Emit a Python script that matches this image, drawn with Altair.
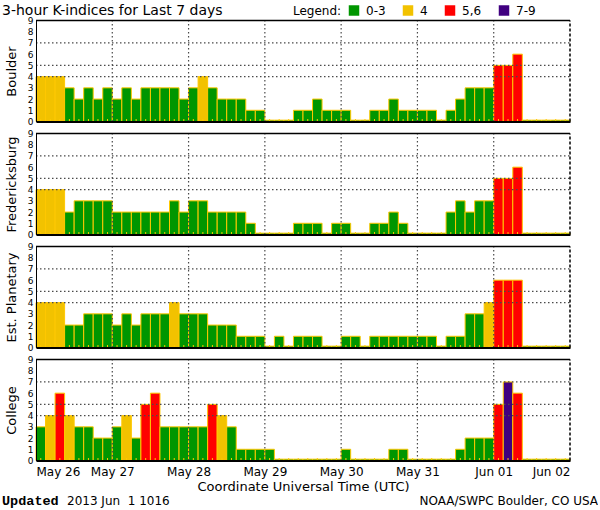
import altair as alt
import pandas as pd

# ---------------- data ----------------
stations = ["Boulder", "Fredericksburg", "Est. Planetary", "College"]
boulder = [4, 4, 4, 3, 2, 3, 2, 3, 2, 3, 2, 3, 3, 3, 3, 2,
           3, 4, 3, 2, 2, 2, 1, 1, 0, 0, 0, 1, 1, 2, 1, 1,
           1, 0, 0, 1, 1, 2, 1, 1, 1, 1, 0, 1, 2, 3, 3, 3,
           5, 5, 6, 0, 0, 0, 0, 0]
fredericksburg = [4, 4, 4, 2, 3, 3, 3, 3, 2, 2, 2, 2, 2, 2, 3, 2,
                  3, 3, 2, 2, 2, 2, 1, 0, 0, 0, 0, 1, 1, 1, 0, 1,
                  1, 0, 0, 1, 1, 2, 1, 0, 0, 0, 0, 2, 3, 2, 3, 3,
                  5, 5, 6, 0, 0, 0, 0, 0]
planetary = [4, 4, 4, 2, 2, 3, 3, 3, 2, 3, 2, 3, 3, 3, 4, 3,
             3, 3, 2, 2, 2, 1, 1, 1, 0, 1, 0, 1, 1, 1, 0, 0,
             1, 1, 0, 1, 1, 1, 1, 1, 1, 1, 0, 1, 1, 3, 3, 4,
             6, 6, 6, 0, 0, 0, 0, 0]
college = [3, 4, 6, 4, 3, 3, 2, 2, 3, 4, 2, 5, 6, 3, 3, 3,
           3, 3, 5, 4, 3, 1, 1, 1, 1, 0, 0, 0, 0, 0, 0, 0,
           1, 0, 0, 0, 0, 1, 1, 0, 0, 0, 0, 0, 1, 2, 2, 2,
           5, 7, 6, 0, 0, 0, 0, 0]
series = [boulder, fredericksburg, planetary, college]
day_labels = ["May 26", "May 27", "May 28", "May 29", "May 30", "May 31", "Jun 01", "Jun 02"]
levels = ["0-3", "4", "5,6", "7-9"]
level_colors = ["#009600", "#F2C200", "#FF0000", "#400080"]
y_ticks = [0, 1, 2, 3, 4, 5, 6, 7, 8, 9]
y_grid = [4, 5, 7]
day_grid = [8, 16, 24, 32, 40, 48]
title_text = "3-hour K-indices for Last 7 days"
x_title = "Coordinate Universal Time (UTC)"
updated_label = "Updated"
updated_text = "2013 Jun\u00a0\u00a01 1016"
credit_text = "NOAA/SWPC Boulder, CO USA"

FONT = "DejaVu Sans"
N = 56
YMAX = 9
W, H = 534, 101
OUTLINE = "#FFC800"
GRID = "#4A4A4A"


def level_of(k):
    if k <= 3:
        return "0-3"
    if k == 4:
        return "4"
    if k <= 6:
        return "5,6"
    return "7-9"


xscale = alt.Scale(domain=[0, N], nice=False, zero=False)
yscale = alt.Scale(domain=[0, YMAX], nice=False, zero=True)
label_expr = "[" + ",".join("'%s'" % d for d in day_labels) + "][round(datum.value / 8)]"

legend = alt.Legend(
    title="Legend:", orient="none", legendX=257, legendY=-16,
    direction="horizontal", titleOrient="left", titleFont=FONT,
    titleFontSize=12, titleFontWeight="normal", titleColor="black",
    titlePadding=6, labelFont=FONT, labelFontSize=12, labelColor="black",
    symbolType="square", symbolSize=110, symbolStrokeWidth=0,
    symbolOpacity=1, columnPadding=16, labelOffset=6, gridAlign="none",
)


def panel(name, vals, last):
    df = pd.DataFrame({"i": list(range(len(vals))), "k": vals})
    df["level"] = [level_of(k) for k in vals]

    axis_kw = dict(values=[8 * d for d in range(8)], labelExpr=label_expr,
                   grid=False, ticks=False, domainColor="black", domainWidth=2,
                   labels=last, labelFont=FONT, labelFontSize=12,
                   labelColor="black", labelPadding=6, zindex=2)
    if last:
        axis_kw.update(title=x_title, titleFont=FONT, titleFontSize=13,
                       titleFontWeight="normal", titleColor="black",
                       titlePadding=3)
    else:
        axis_kw.update(title="")
    xaxis = alt.Axis(**axis_kw)
    yaxis = alt.Axis(values=y_ticks, title=name, grid=False, ticks=False,
                     domainColor="black", domainWidth=1, labelFont=FONT,
                     labelFontSize=9, labelColor="black", labelPadding=3,
                     labelOverlap=False, zindex=2,
                     titleFont=FONT, titleFontSize=13, titleFontWeight="normal",
                     titleColor="black", titlePadding=9)

    bars = alt.Chart(df).transform_calculate(
        h="max(datum.k, 0.12)", i2="datum.i + 1"
    ).mark_bar(stroke=OUTLINE, strokeWidth=1).encode(
        x=alt.X("i:Q", scale=xscale, axis=xaxis),
        x2="i2:Q",
        y=alt.Y("h:Q", scale=yscale, axis=yaxis),
        y2=alt.Y2Datum(0),
        color=alt.Color("level:N", scale=alt.Scale(domain=levels, range=level_colors),
                        legend=legend),
    )
    ticks = alt.Chart(df).transform_calculate(c="datum.i + 0.5").mark_rule(
        color=OUTLINE, strokeWidth=1
    ).encode(
        x=alt.X("c:Q", scale=xscale, axis=None),
        y=alt.YDatum(0, scale=yscale, axis=None),
        y2=alt.Y2Datum(0.22),
    )
    hgrid = alt.Chart(pd.DataFrame({"g": y_grid})).mark_rule(
        color=GRID, strokeDash=[1.5, 2.5], strokeWidth=1.2
    ).encode(
        y=alt.Y("g:Q", scale=yscale, axis=None),
        x=alt.XDatum(0, scale=xscale, axis=None),
        x2=alt.X2Datum(N),
    )
    vgrid = alt.Chart(pd.DataFrame({"d": day_grid})).mark_rule(
        color=GRID, strokeDash=[1.5, 2.5], strokeWidth=1.2
    ).encode(
        x=alt.X("d:Q", scale=xscale, axis=None),
        y=alt.YDatum(0, scale=yscale, axis=None),
        y2=alt.Y2Datum(YMAX),
    )
    top = alt.Chart(pd.DataFrame({"tb": [YMAX]})).mark_rule(
        color="black", strokeWidth=1.5
    ).encode(
        y=alt.Y("tb:Q", scale=yscale, axis=None),
        x=alt.XDatum(0, scale=xscale, axis=None),
        x2=alt.X2Datum(N),
    )
    right = alt.Chart(pd.DataFrame({"rb": [N]})).mark_rule(
        color="black", strokeDash=[3, 2], strokeWidth=1.5
    ).encode(
        x=alt.X("rb:Q", scale=xscale, axis=None),
        y=alt.YDatum(0, scale=yscale, axis=None),
        y2=alt.Y2Datum(YMAX),
    )

    layers = [bars, ticks, hgrid, vgrid, top, right]
    if name == stations[0]:
        layers.append(alt.Chart(pd.DataFrame({"t": [title_text]})).mark_text(
            align="left", baseline="alphabetic", font=FONT, fontSize=14, color="black"
        ).encode(x=alt.value(-34), y=alt.value(-6), text="t:N"))
    if last:
        layers.append(alt.Chart(pd.DataFrame({"t": [updated_label]})).mark_text(
            align="left", baseline="alphabetic", font="Liberation Mono", fontSize=13.5,
            fontWeight="bold", color="black"
        ).encode(x=alt.value(-34), y=alt.value(145.5), text="t:N"))
        layers.append(alt.Chart(pd.DataFrame({"t": [updated_text]})).mark_text(
            align="left", baseline="alphabetic", font=FONT, fontSize=12, color="black"
        ).encode(x=alt.value(31), y=alt.value(145.5), text="t:N"))
        layers.append(alt.Chart(pd.DataFrame({"t": [credit_text]})).mark_text(
            align="right", baseline="alphabetic", font=FONT, fontSize=12, color="black"
        ).encode(x=alt.value(562), y=alt.value(145.5), text="t:N"))
    return alt.layer(*layers).resolve_axis(x="independent", y="independent").properties(
        width=W, height=H)


panels = [panel(n, s, i == len(stations) - 1) for i, (n, s) in enumerate(zip(stations, series))]

chart = alt.vconcat(*panels, spacing=3).properties(
    padding={"left": 2, "top": 3.5, "right": 0, "bottom": 0},
    background="white",
).configure_view(stroke=None)

chart.save("out.html", embed_options={"renderer": "svg", "actions": False})
